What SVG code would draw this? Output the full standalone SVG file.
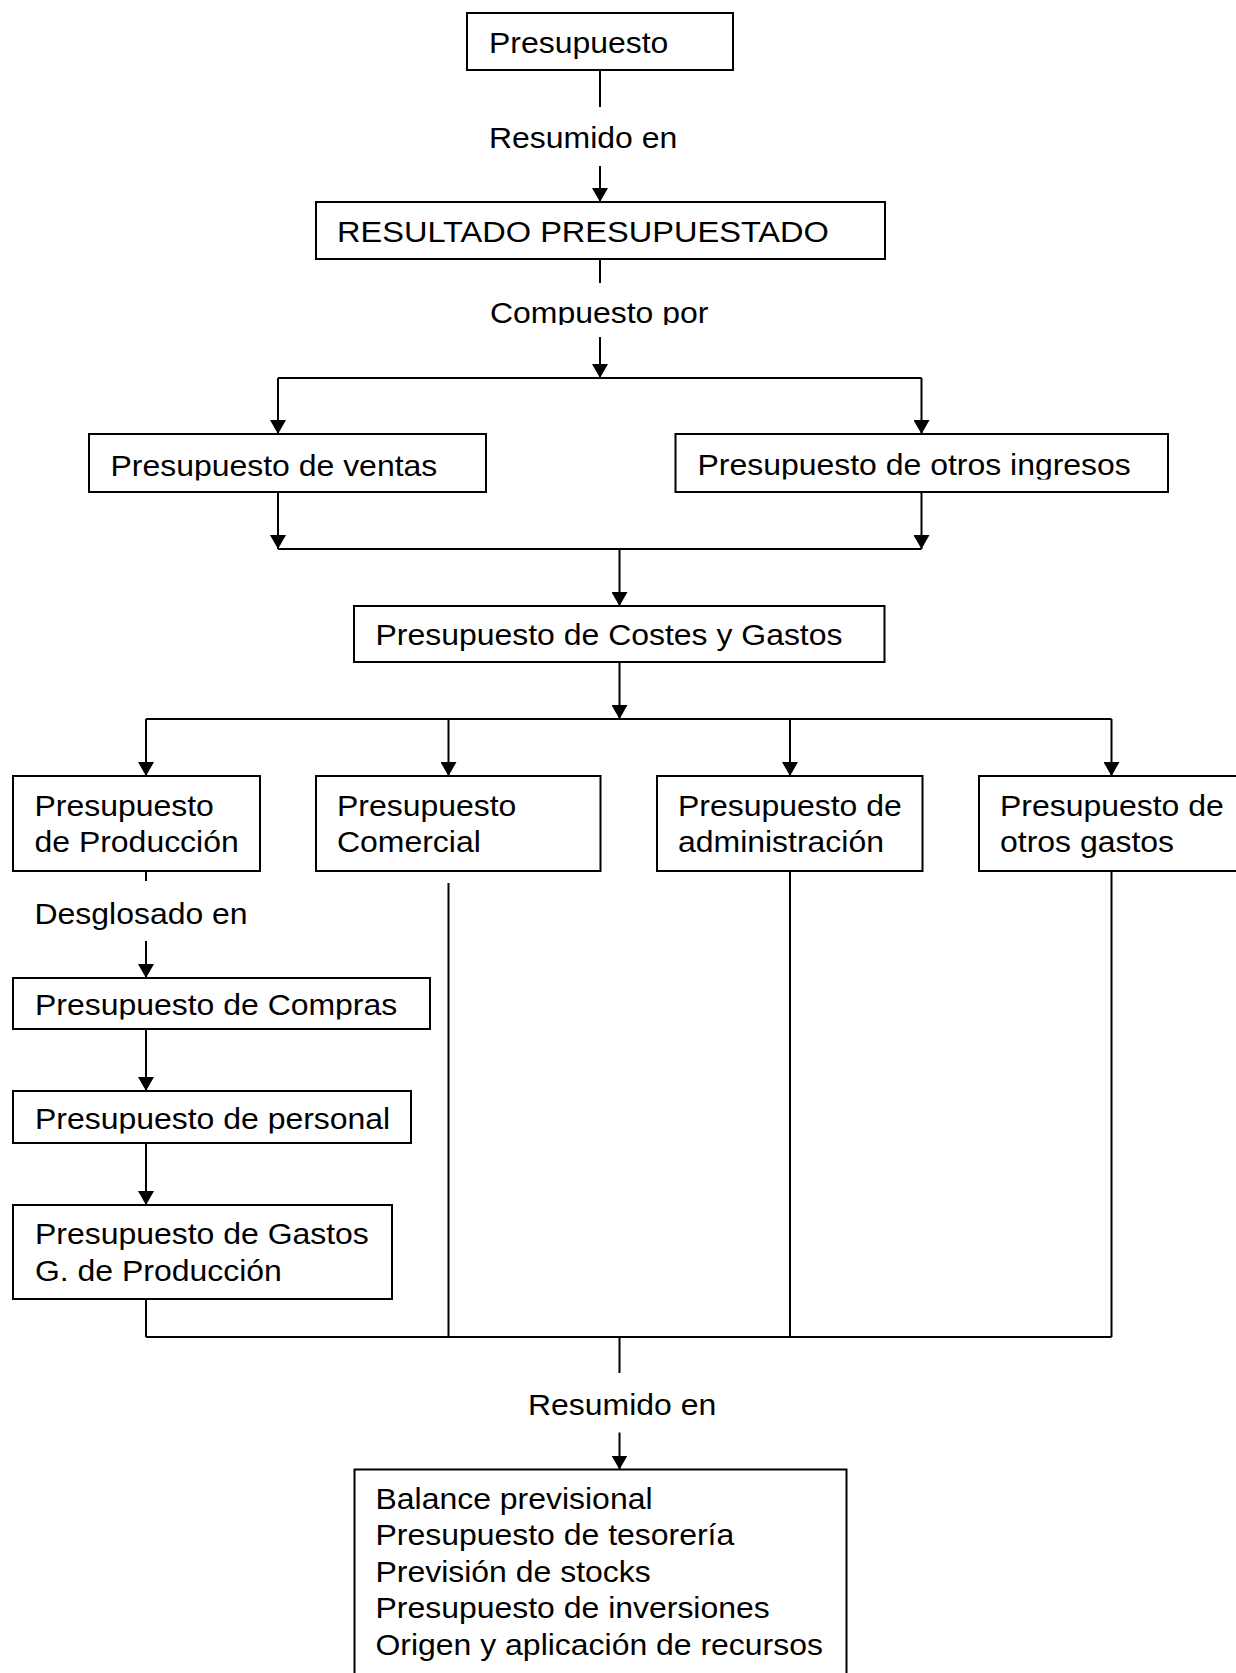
<svg xmlns="http://www.w3.org/2000/svg" width="1236" height="1673" viewBox="0 0 1236 1673">
  <style>
    .box { fill: #fff; stroke: #000; stroke-width: 2; }
    .lbl { font-family: "Liberation Sans", Arial, sans-serif; font-size: 30px; fill: #000; }
    .wire { fill: none; stroke: #000; stroke-width: 2; }
    .arrow { marker-end: url(#head); }
  </style>
  <defs>
    <marker id="head" viewBox="0 0 14 16" refX="14" refY="8" markerWidth="14" markerHeight="16" markerUnits="userSpaceOnUse" orient="auto">
      <path d="M0,0 L14,8 L0,16 Z" fill="#000"/>
    </marker>
    <!-- text frames that cut off descenders -->
    <clipPath id="cut-compuesto"><rect x="0" y="0" width="1236" height="325"/></clipPath>
    <clipPath id="cut-ventas"><rect x="0" y="0" width="1236" height="480.5"/></clipPath>
    <clipPath id="cut-ingresos"><rect x="0" y="0" width="1236" height="479.5"/></clipPath>
    <clipPath id="cut-compras"><rect x="0" y="0" width="1236" height="1019.5"/></clipPath>
    <clipPath id="cut-personal"><rect x="0" y="0" width="1236" height="1133.5"/></clipPath>
  </defs>

  <rect width="1236" height="1673" fill="#fff"/>

  <!-- connectors -->
  <g id="connectors">
    <path class="wire" d="M600,70 V107"/>
    <path class="wire arrow" d="M600,166 V202"/>
    <path class="wire" d="M600,259 V283"/>
    <path class="wire arrow" d="M600,337 V378"/>
    <path class="wire" d="M278,378 H921.5"/>
    <path class="wire arrow" d="M278,378 V434"/>
    <path class="wire arrow" d="M921.5,378 V434"/>
    <path class="wire arrow" d="M278,492 V549"/>
    <path class="wire arrow" d="M921.5,492 V549"/>
    <path class="wire" d="M278,549 H921.5"/>
    <path class="wire arrow" d="M619.5,549 V606"/>
    <path class="wire arrow" d="M619.5,662 V719"/>
    <path class="wire" d="M146,719 H1111.5"/>
    <path class="wire arrow" d="M146,719 V776"/>
    <path class="wire arrow" d="M448.5,719 V776"/>
    <path class="wire arrow" d="M790,719 V776"/>
    <path class="wire arrow" d="M1111.5,719 V776"/>
    <path class="wire" d="M146,871 V881"/>
    <path class="wire arrow" d="M146,941 V978"/>
    <path class="wire arrow" d="M146,1029 V1091"/>
    <path class="wire arrow" d="M146,1143 V1205"/>
    <path class="wire" d="M146,1299 V1337"/>
    <path class="wire" d="M448.5,883 V1337"/>
    <path class="wire" d="M790,871 V1337"/>
    <path class="wire" d="M1111.5,871 V1337"/>
    <path class="wire" d="M146,1337 H1111.5"/>
    <path class="wire" d="M619.5,1337 V1373"/>
    <path class="wire arrow" d="M619.5,1432.5 V1469.5"/>
  </g>

  <!-- connector captions -->
  <g id="captions">
    <text class="lbl" transform="matrix(1.065 0 0 1 489 148)">Resumido en</text>
    <g clip-path="url(#cut-compuesto)">
      <text class="lbl" transform="matrix(1.065 0 0 1 490 323)">Compuesto por</text>
    </g>
    <text class="lbl" transform="matrix(1.065 0 0 1 34.5 923.5)">Desglosado en</text>
    <text class="lbl" transform="matrix(1.065 0 0 1 528 1415)">Resumido en</text>
  </g>

  <!-- nodes -->
  <g id="n-presupuesto">
    <rect class="box" x="467" y="13" width="266" height="57"/>
    <text class="lbl" transform="matrix(1.065 0 0 1 489 52.5)">Presupuesto</text>
  </g>

  <g id="n-resultado">
    <rect class="box" x="316" y="202" width="569" height="57"/>
    <text class="lbl" transform="matrix(1.085 0 0 1 337 242)">RESULTADO PRESUPUESTADO</text>
  </g>

  <g id="n-ventas">
    <rect class="box" x="89" y="434" width="397" height="58"/>
    <g clip-path="url(#cut-ventas)">
      <text class="lbl" transform="matrix(1.065 0 0 1 110.5 476)">Presupuesto de ventas</text>
    </g>
  </g>

  <g id="n-otros-ingresos">
    <rect class="box" x="675.5" y="434" width="492.5" height="58"/>
    <g clip-path="url(#cut-ingresos)">
      <text class="lbl" transform="matrix(1.065 0 0 1 697.5 475)">Presupuesto de otros ingresos</text>
    </g>
  </g>

  <g id="n-costes">
    <rect class="box" x="354" y="606" width="530.5" height="56"/>
    <text class="lbl" transform="matrix(1.065 0 0 1 375.5 645)">Presupuesto de Costes y Gastos</text>
  </g>

  <g id="n-produccion">
    <rect class="box" x="13" y="776" width="247" height="95"/>
    <text class="lbl" transform="matrix(1.065 0 0 1 34.5 816)"><tspan x="0" y="0">Presupuesto</tspan><tspan x="0" y="36">de Producción</tspan></text>
  </g>

  <g id="n-comercial">
    <rect class="box" x="316" y="776" width="284.5" height="95"/>
    <text class="lbl" transform="matrix(1.065 0 0 1 337 816)"><tspan x="0" y="0">Presupuesto</tspan><tspan x="0" y="36">Comercial</tspan></text>
  </g>

  <g id="n-administracion">
    <rect class="box" x="657" y="776" width="265.5" height="95"/>
    <text class="lbl" transform="matrix(1.065 0 0 1 678 816)"><tspan x="0" y="0">Presupuesto de</tspan><tspan x="0" y="36">administración</tspan></text>
  </g>

  <g id="n-otros-gastos">
    <rect class="box" x="979" y="776" width="262" height="95"/>
    <text class="lbl" transform="matrix(1.065 0 0 1 1000 816)"><tspan x="0" y="0">Presupuesto de</tspan><tspan x="0" y="36">otros gastos</tspan></text>
  </g>

  <g id="n-compras">
    <rect class="box" x="13" y="978" width="417" height="51"/>
    <g clip-path="url(#cut-compras)">
      <text class="lbl" transform="matrix(1.065 0 0 1 35 1014.5)">Presupuesto de Compras</text>
    </g>
  </g>

  <g id="n-personal">
    <rect class="box" x="13" y="1091" width="398" height="52"/>
    <g clip-path="url(#cut-personal)">
      <text class="lbl" transform="matrix(1.065 0 0 1 35 1128.5)">Presupuesto de personal</text>
    </g>
  </g>

  <g id="n-gastos-produccion">
    <rect class="box" x="13" y="1205" width="379" height="94"/>
    <text class="lbl" transform="matrix(1.065 0 0 1 35 1244)"><tspan x="0" y="0">Presupuesto de Gastos</tspan><tspan x="0" y="37">G. de Producción</tspan></text>
  </g>

  <g id="n-resumen">
    <rect class="box" x="354.5" y="1469.5" width="492" height="215"/>
    <text class="lbl" transform="matrix(1.065 0 0 1 375.5 1509)"><tspan x="0" y="0">Balance previsional</tspan><tspan x="0" y="36.5">Presupuesto de tesorería</tspan><tspan x="0" y="73">Previsión de stocks</tspan><tspan x="0" y="109.5">Presupuesto de inversiones</tspan><tspan x="0" y="146">Origen y aplicación de recursos</tspan></text>
  </g>
</svg>
